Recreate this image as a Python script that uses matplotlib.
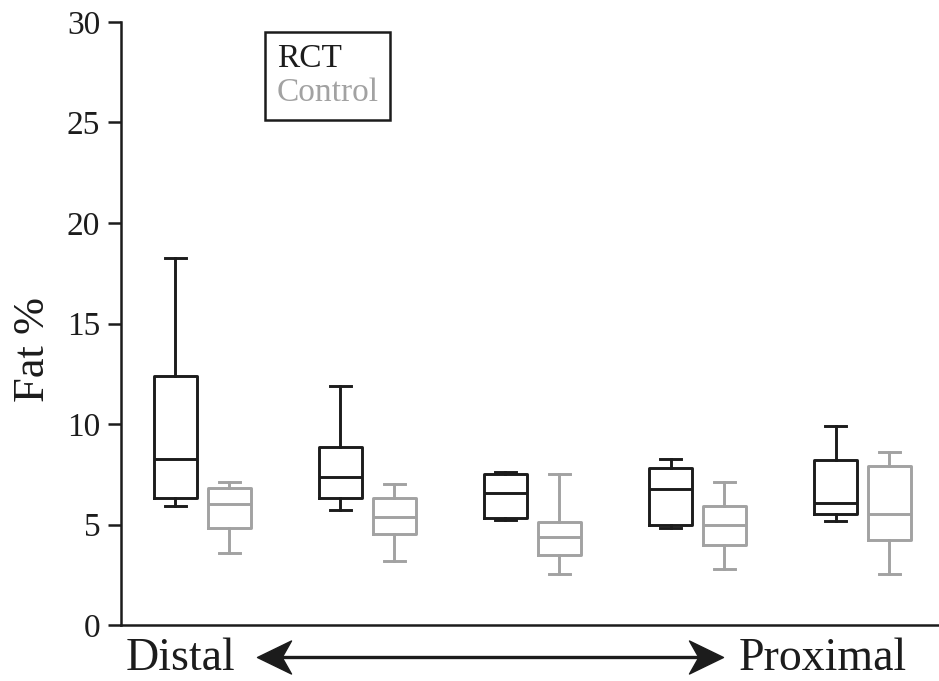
import matplotlib
matplotlib.use("Agg")
import matplotlib.pyplot as plt
from matplotlib.lines import Line2D
from matplotlib.path import Path
import numpy as np

# box statistics (Fat %), five segments distal -> proximal
rct_whislo = [5.9, 5.7, 5.2, 4.85, 5.15]
rct_q1 = [6.3, 6.3, 5.3, 5.0, 5.5]
rct_med = [8.25, 7.35, 6.55, 6.75, 6.05]
rct_q3 = [12.4, 8.85, 7.5, 7.8, 8.2]
rct_whishi = [18.25, 11.9, 7.6, 8.25, 9.9]

ctl_whislo = [3.6, 3.2, 2.55, 2.8, 2.55]
ctl_q1 = [4.85, 4.55, 3.5, 4.0, 4.25]
ctl_med = [6.0, 5.35, 4.4, 5.0, 5.5]
ctl_q3 = [6.8, 6.3, 5.1, 5.9, 7.9]
ctl_whishi = [7.1, 7.0, 7.5, 7.1, 8.6]

groups = ["RCT", "Control"]
yticks = [0, 5, 10, 15, 20, 25, 30]

BLACK = "#1c1c1c"
GRAY = "#a2a2a2"
FONT = "Liberation Serif"

plt.rcParams["font.family"] = FONT

fig = plt.figure(figsize=(9.39, 6.81), dpi=100)
ax = fig.add_axes([121 / 939, 1 - 625 / 681, 1 - 121 / 939, (625 - 22) / 681])


def make_stats(lo, q1, med, q3, hi):
    return [dict(whislo=a, q1=b, med=c, q3=d, whishi=e, fliers=[])
            for a, b, c, d, e in zip(lo, q1, med, q3, hi)]


pos = np.arange(1, 6)
offset = 0.327
lw = 2.1

for stats, p, col in [
    (make_stats(rct_whislo, rct_q1, rct_med, rct_q3, rct_whishi), pos, BLACK),
    (make_stats(ctl_whislo, ctl_q1, ctl_med, ctl_q3, ctl_whishi), pos + offset, GRAY),
]:
    ax.bxp(stats, positions=p, widths=0.26, capwidths=0.127, showfliers=False,
           manage_ticks=False,
           boxprops=dict(color=col, linewidth=lw),
           medianprops=dict(color=col, linewidth=lw),
           whiskerprops=dict(color=col, linewidth=lw),
           capprops=dict(color=col, linewidth=lw))

ax.set_xlim(0.670, 5.627)
ax.set_ylim(0, 30)
ax.set_yticks(yticks)
ax.set_xticks([])
ax.spines["top"].set_visible(False)
ax.spines["right"].set_visible(False)
for s in ["left", "bottom"]:
    ax.spines[s].set_linewidth(1.8)
    ax.spines[s].set_color(BLACK)
ax.tick_params(axis="y", direction="out", length=9.5, width=1.8, pad=5.5,
               labelsize=24, colors=BLACK)

fig.text(33 / 939, 1 - 350 / 681, "Fat %", rotation=90, ha="center",
         va="center", fontsize=32, color=BLACK)

# legend: text only, coloured labels in a square box
handles = [Line2D([], [], color=BLACK, linewidth=0),
           Line2D([], [], color=GRAY, linewidth=0)]
leg = ax.legend(handles, groups, loc="upper left",
                bbox_to_anchor=(0.176, 0.983), borderaxespad=0,
                handlelength=0, handletextpad=0, fontsize=24,
                labelcolor=[BLACK, GRAY], fancybox=False, framealpha=1,
                edgecolor=BLACK, borderpad=0.35, labelspacing=0.1)
leg.get_frame().set_linewidth(1.8)

# Distal <-> Proximal annotation below the axis
fig.text(126 / 939, 1 - 670 / 681, "Distal", ha="left", va="baseline",
         fontsize=33, color=BLACK)
fig.text(739 / 939, 1 - 670 / 681, "Proximal", ha="left", va="baseline",
         fontsize=33, color=BLACK)

head_r = Path([(1, 0), (-1, 0.97), (-0.45, 0), (-1, -0.97), (1, 0)],
              [Path.MOVETO, Path.LINETO, Path.LINETO, Path.LINETO, Path.CLOSEPOLY])
head_l = Path([(-1, 0), (1, 0.97), (0.45, 0), (1, -0.97), (-1, 0)],
              [Path.MOVETO, Path.LINETO, Path.LINETO, Path.LINETO, Path.CLOSEPOLY])
ay = 1 - 657 / 681
fig.add_artist(Line2D([275 / 939, 705 / 939], [ay, ay], color=BLACK,
                      linewidth=2.4, transform=fig.transFigure))
fig.add_artist(Line2D([273.5 / 939], [ay], marker=head_l, markersize=24.5,
                      color=BLACK, linewidth=0, transform=fig.transFigure))
fig.add_artist(Line2D([705.5 / 939], [ay], marker=head_r, markersize=24.5,
                      color=BLACK, linewidth=0, transform=fig.transFigure))

fig.savefig("out.png", dpi=100)
